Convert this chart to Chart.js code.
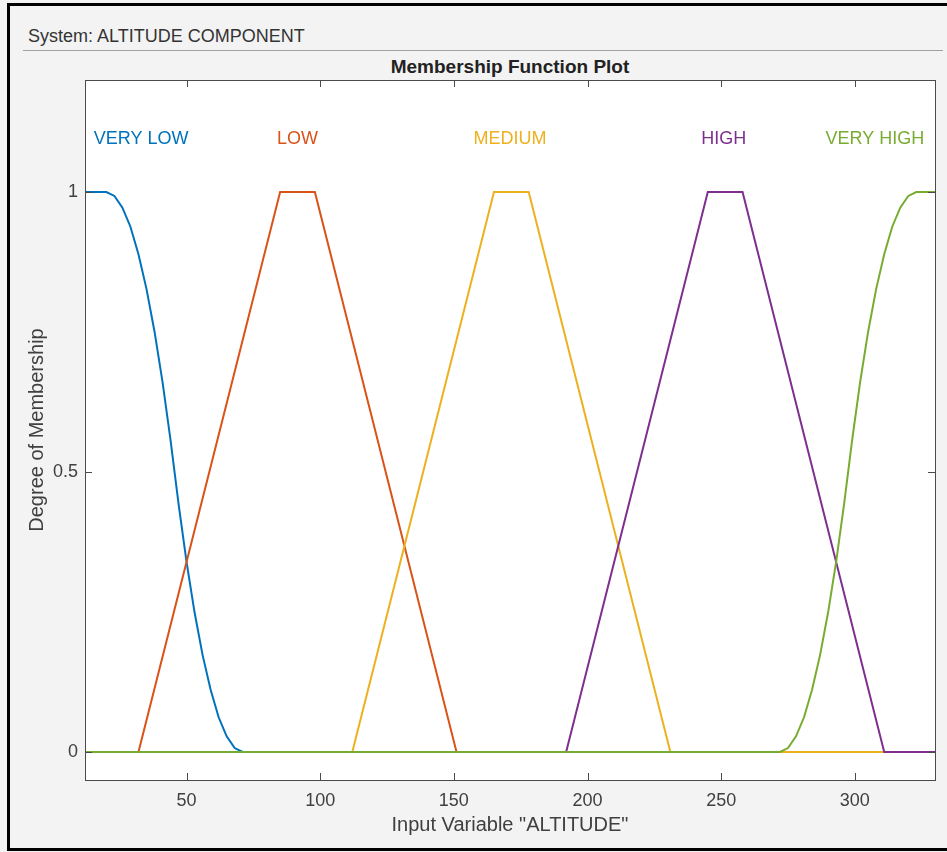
<!DOCTYPE html>
<html>
<head>
<meta charset="utf-8">
<script src="https://cdn.jsdelivr.net/npm/chart.js@4/dist/chart.umd.min.js"></script>
<style>
    html, body { margin: 0; padding: 0; background: #f3f3f3; overflow: hidden; }
    body { width: 947px; height: 852px; position: relative; font-family: "Liberation Sans", Arial, sans-serif; }
    #frame { position: absolute; left: 7px; top: 3px; width: 960px; height: 842px; border: 3px solid #000; box-sizing: content-box; }
    #system { position: absolute; left: 28px; top: 26px; font-size: 18px; color: #333; }
    #rule { position: absolute; left: 23px; top: 50px; width: 920px; height: 1px; background: #a0a0a0; }
    #plotTitle { position: absolute; left: 85px; width: 850px; top: 56px; text-align: center; font-size: 19px; font-weight: bold; color: #222; }
    #chartWrap { position: absolute; left: 0; top: 0; width: 947px; height: 852px; }
</style>
</head>
<body>
<div id="frame"></div>
<div id="system">System: ALTITUDE COMPONENT</div>
<div id="rule"></div>
<div id="plotTitle">Membership Function Plot</div>
<div id="chartWrap"><canvas id="mfChart" width="947" height="852"></canvas></div>
<script>
// membership function curves
const xVeryLow = [12, 20, 23, 26, 29, 32, 35, 38, 41, 44, 47, 50, 53, 56, 59, 62, 65, 68, 71, 330];
const yVeryLow = [1, 1, 0.993, 0.972, 0.938, 0.889, 0.827, 0.751, 0.661, 0.557, 0.443, 0.339, 0.249, 0.173, 0.111, 0.062, 0.028, 0.007, 0, 0];

const xLow = [12, 32, 85, 98, 151, 330];
const yLow = [0, 0, 1, 1, 0, 0];

const xMedium = [12, 112, 165, 178, 231, 330];
const yMedium = [0, 0, 1, 1, 0, 0];

const xHigh = [12, 192, 245, 258, 311, 330];
const yHigh = [0, 0, 1, 1, 0, 0];

const xVeryHigh = [12, 272, 275, 278, 281, 284, 287, 290, 293, 296, 299, 302, 305, 308, 311, 314, 317, 320, 323, 330];
const yVeryHigh = [0, 0, 0.007, 0.028, 0.062, 0.111, 0.173, 0.249, 0.339, 0.443, 0.557, 0.661, 0.751, 0.827, 0.889, 0.938, 0.972, 0.993, 1, 1];

const mfNames = ['VERY LOW', 'LOW', 'MEDIUM', 'HIGH', 'VERY HIGH'];
const mfLabelX = [33, 91.5, 171, 251, 307.5];
const mfLabelY = 1.095;

const xTicks = [50, 100, 150, 200, 250, 300];
const yTicks = [0, 0.5, 1];
const yTickLabels = ['0', '0.5', '1'];

const colors = ['#0072BD', '#D95319', '#EDB120', '#7E2F8E', '#77AC30'];

function toPoints(xs, ys) {
    return xs.map((x, i) => ({ x: x, y: ys[i] }));
}

const series = [
    toPoints(xVeryLow, yVeryLow),
    toPoints(xLow, yLow),
    toPoints(xMedium, yMedium),
    toPoints(xHigh, yHigh),
    toPoints(xVeryHigh, yVeryHigh)
];

// later curves sit on top, like the original plot
const datasets = series.map((pts, i) => ({
    label: mfNames[i],
    data: pts,
    borderColor: colors[i],
    backgroundColor: colors[i],
    borderWidth: 2,
    pointRadius: 0,
    tension: 0,
    fill: false,
    order: series.length - i
}));

const axisFont = { family: '"Liberation Sans", Arial, sans-serif', size: 18 };
const titleFont = { family: '"Liberation Sans", Arial, sans-serif', size: 20 };

// white plot area, box, inward ticks and MF names
const boxPlugin = {
    id: 'matlabBox',
    beforeDatasetsDraw(chart) {
        const a = chart.chartArea;
        const ctx = chart.ctx;
        ctx.save();
        ctx.fillStyle = '#ffffff';
        ctx.fillRect(a.left, a.top, a.right - a.left, a.bottom - a.top);
        ctx.restore();
    },
    afterDatasetsDraw(chart) {
        const a = chart.chartArea;
        const ctx = chart.ctx;
        const xs = chart.scales.x, ys = chart.scales.y;
        const tick = 7;
        ctx.save();
        ctx.strokeStyle = '#4a4a4a';
        ctx.lineWidth = 1;
        ctx.beginPath();
        xTicks.forEach(v => {
            const px = Math.round(xs.getPixelForValue(v)) + 0.5;
            ctx.moveTo(px, a.bottom); ctx.lineTo(px, a.bottom - tick);
            ctx.moveTo(px, a.top); ctx.lineTo(px, a.top + tick);
        });
        yTicks.forEach(v => {
            const py = Math.round(ys.getPixelForValue(v)) + 0.5;
            ctx.moveTo(a.left, py); ctx.lineTo(a.left + tick, py);
            ctx.moveTo(a.right, py); ctx.lineTo(a.right - tick, py);
        });
        ctx.stroke();
        ctx.strokeRect(Math.round(a.left) + 0.5, Math.round(a.top) + 0.5, Math.round(a.right - a.left), Math.round(a.bottom - a.top));

        ctx.font = '18px "Liberation Sans", Arial, sans-serif';
        ctx.textAlign = 'center';
        ctx.textBaseline = 'middle';
        mfNames.forEach((name, i) => {
            ctx.fillStyle = colors[i];
            ctx.fillText(name, xs.getPixelForValue(mfLabelX[i]), ys.getPixelForValue(mfLabelY));
        });
        ctx.restore();
    }
};

new Chart(document.getElementById('mfChart').getContext('2d'), {
    type: 'line',
    data: { datasets: datasets },
    options: {
        responsive: false,
        animation: false,
        layout: { padding: { left: 0, top: 80, right: 12, bottom: 0 } },
        plugins: {
            legend: { display: false },
            tooltip: { enabled: false },
            title: { display: false }
        },
        scales: {
            x: {
                type: 'linear',
                min: 12,
                max: 330,
                border: { display: false },
                grid: { display: false, drawTicks: false },
                afterBuildTicks: scale => { scale.ticks = xTicks.map(v => ({ value: v })); },
                afterFit: scale => { scale.height = 72; },
                ticks: { color: '#404040', font: axisFont, padding: 10, maxRotation: 0 },
                title: { display: true, text: 'Input Variable "ALTITUDE"', color: '#404040', font: titleFont, padding: { top: 0, bottom: 15 } }
            },
            y: {
                type: 'linear',
                min: -0.05,
                max: 1.2,
                border: { display: false },
                grid: { display: false, drawTicks: false },
                afterBuildTicks: scale => { scale.ticks = yTicks.map(v => ({ value: v })); },
                afterFit: scale => { scale.width = 85; },
                ticks: {
                    color: '#404040',
                    font: axisFont,
                    padding: 7,
                    callback: (value, index) => yTickLabels[index]
                },
                title: { display: true, text: 'Degree of Membership', color: '#404040', font: titleFont, padding: { top: 25, bottom: 0 } }
            }
        }
    },
    plugins: [boxPlugin]
});
</script>
</body>
</html>
